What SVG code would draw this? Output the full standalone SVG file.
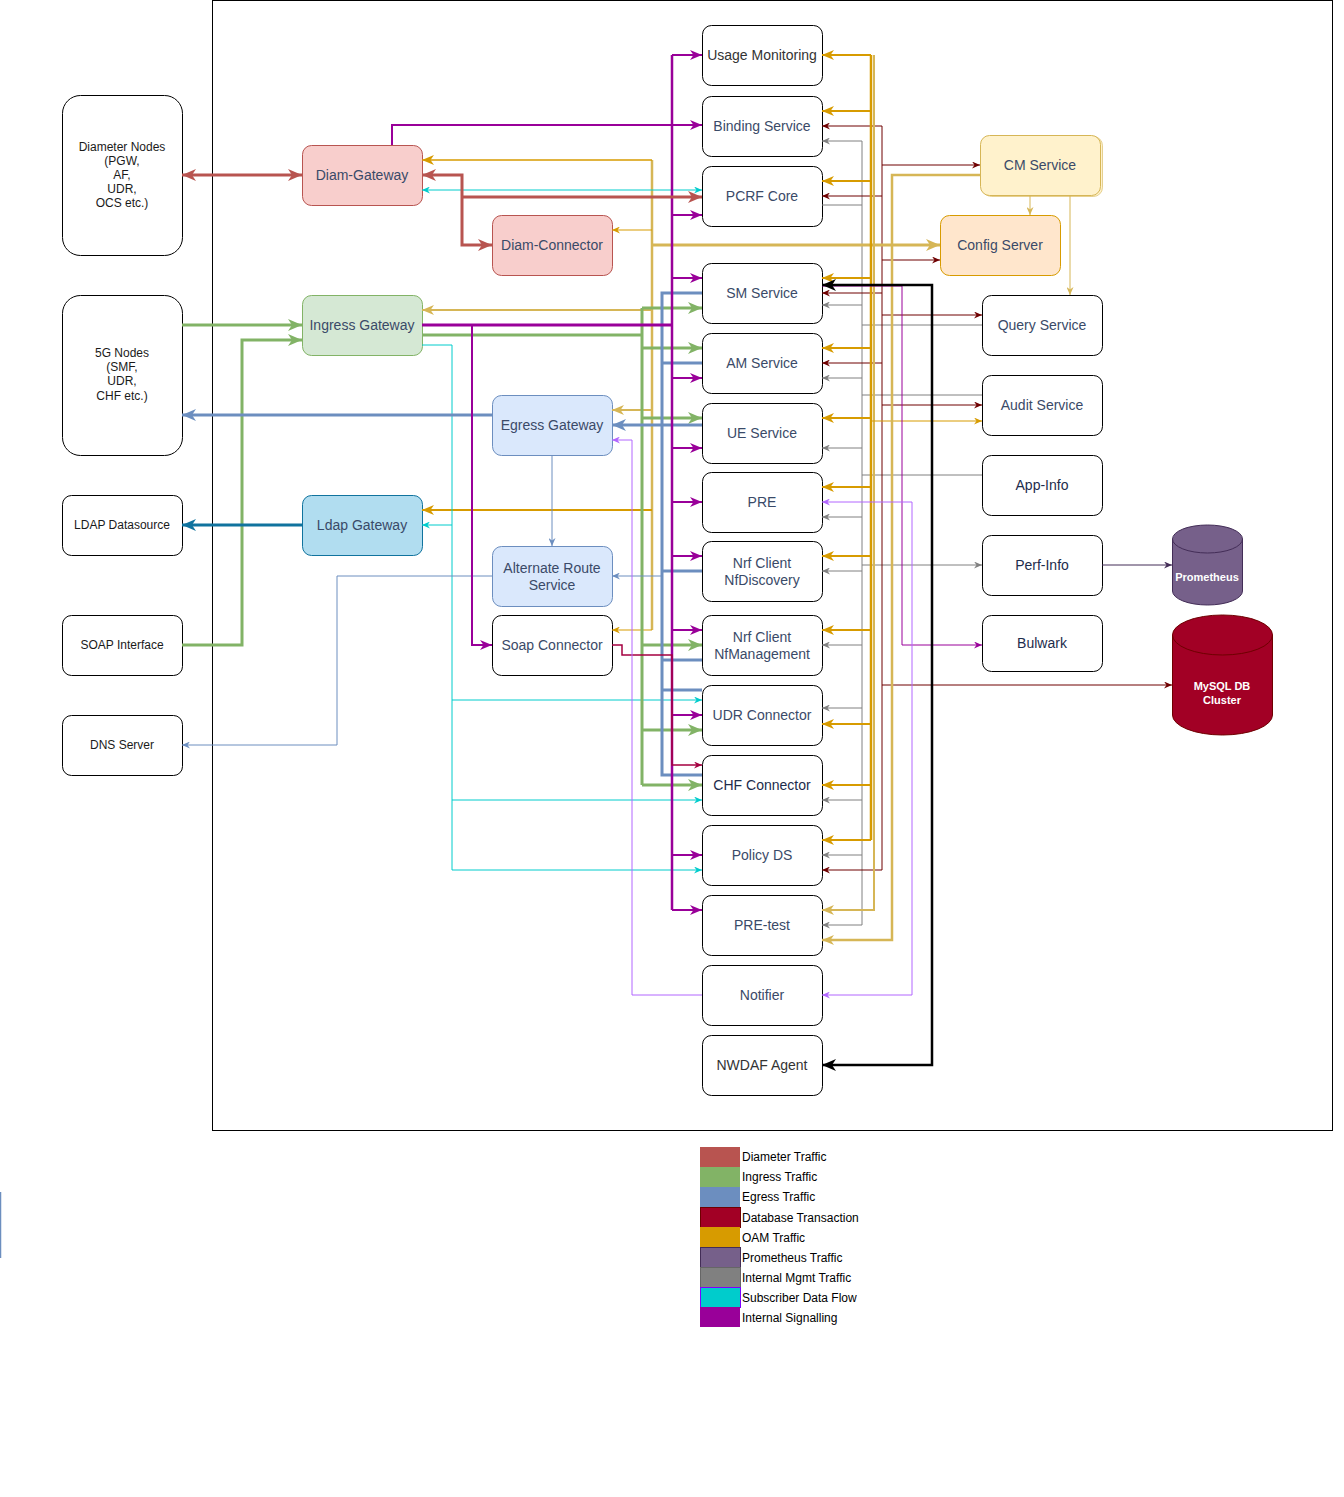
<svg xmlns="http://www.w3.org/2000/svg" width="1344" height="1497" viewBox="0 0 1344 1497">
<style>
text{font-family:"Liberation Sans",Arial,Helvetica,sans-serif}
.n{fill:#fff;stroke:#000;stroke-width:1}
.t{font-size:14px;text-anchor:middle;fill:#3a4a68}
.tl{font-size:12px;text-anchor:middle;fill:#1a1a1a}
.dk{fill:#333}
.nv{fill:#1d2c4c}
.db{font-size:11px;font-weight:bold;text-anchor:middle;fill:#fff}
.lg{font-size:12px;fill:#000}
</style>
<defs>
<marker id="rL" viewBox="0 0 14 12" markerWidth="14" markerHeight="12" refX="14" refY="6" orient="auto-start-reverse" markerUnits="userSpaceOnUse"><path d="M0,0L14,6L0,12L4,6Z" fill="#b85450"/></marker>
<marker id="gnL" viewBox="0 0 14 12" markerWidth="14" markerHeight="12" refX="14" refY="6" orient="auto-start-reverse" markerUnits="userSpaceOnUse"><path d="M0,0L14,6L0,12L4,6Z" fill="#82b366"/></marker>
<marker id="bL" viewBox="0 0 14 12" markerWidth="14" markerHeight="12" refX="14" refY="6" orient="auto-start-reverse" markerUnits="userSpaceOnUse"><path d="M0,0L14,6L0,12L4,6Z" fill="#6c8ebf"/></marker>
<marker id="ldL" viewBox="0 0 14 12" markerWidth="14" markerHeight="12" refX="14" refY="6" orient="auto-start-reverse" markerUnits="userSpaceOnUse"><path d="M0,0L14,6L0,12L4,6Z" fill="#10739e"/></marker>
<marker id="kL" viewBox="0 0 14 12" markerWidth="14" markerHeight="12" refX="14" refY="6" orient="auto-start-reverse" markerUnits="userSpaceOnUse"><path d="M0,0L14,6L0,12L4,6Z" fill="#000"/></marker>
<marker id="lgL" viewBox="0 0 14 12" markerWidth="14" markerHeight="12" refX="14" refY="6" orient="auto-start-reverse" markerUnits="userSpaceOnUse"><path d="M0,0L14,6L0,12L4,6Z" fill="#d6b656"/></marker>
<marker id="gM" viewBox="0 0 12 10" markerWidth="12" markerHeight="10" refX="12" refY="5" orient="auto-start-reverse" markerUnits="userSpaceOnUse"><path d="M0,0L12,5L0,10L3.5,5Z" fill="#d79b00"/></marker>
<marker id="lgM" viewBox="0 0 12 10" markerWidth="12" markerHeight="10" refX="12" refY="5" orient="auto-start-reverse" markerUnits="userSpaceOnUse"><path d="M0,0L12,5L0,10L3.5,5Z" fill="#d6b656"/></marker>
<marker id="pM" viewBox="0 0 12 10" markerWidth="12" markerHeight="10" refX="12" refY="5" orient="auto-start-reverse" markerUnits="userSpaceOnUse"><path d="M0,0L12,5L0,10L3.5,5Z" fill="#990099"/></marker>
<marker id="bS" viewBox="0 0 8 7" markerWidth="8" markerHeight="7" refX="8" refY="3.5" orient="auto-start-reverse" markerUnits="userSpaceOnUse"><path d="M0,0L8,3.5L0,7L2.5,3.5Z" fill="#6c8ebf"/></marker>
<marker id="gS" viewBox="0 0 8 7" markerWidth="8" markerHeight="7" refX="8" refY="3.5" orient="auto-start-reverse" markerUnits="userSpaceOnUse"><path d="M0,0L8,3.5L0,7L2.5,3.5Z" fill="#d79b00"/></marker>
<marker id="lgS" viewBox="0 0 8 7" markerWidth="8" markerHeight="7" refX="8" refY="3.5" orient="auto-start-reverse" markerUnits="userSpaceOnUse"><path d="M0,0L8,3.5L0,7L2.5,3.5Z" fill="#d6b656"/></marker>
<marker id="pS" viewBox="0 0 8 7" markerWidth="8" markerHeight="7" refX="8" refY="3.5" orient="auto-start-reverse" markerUnits="userSpaceOnUse"><path d="M0,0L8,3.5L0,7L2.5,3.5Z" fill="#990099"/></marker>
<marker id="dS" viewBox="0 0 8 7" markerWidth="8" markerHeight="7" refX="8" refY="3.5" orient="auto-start-reverse" markerUnits="userSpaceOnUse"><path d="M0,0L8,3.5L0,7L2.5,3.5Z" fill="#6f0000"/></marker>
<marker id="grS" viewBox="0 0 8 7" markerWidth="8" markerHeight="7" refX="8" refY="3.5" orient="auto-start-reverse" markerUnits="userSpaceOnUse"><path d="M0,0L8,3.5L0,7L2.5,3.5Z" fill="#808080"/></marker>
<marker id="cS" viewBox="0 0 8 7" markerWidth="8" markerHeight="7" refX="8" refY="3.5" orient="auto-start-reverse" markerUnits="userSpaceOnUse"><path d="M0,0L8,3.5L0,7L2.5,3.5Z" fill="#00cccc"/></marker>
<marker id="vS" viewBox="0 0 8 7" markerWidth="8" markerHeight="7" refX="8" refY="3.5" orient="auto-start-reverse" markerUnits="userSpaceOnUse"><path d="M0,0L8,3.5L0,7L2.5,3.5Z" fill="#b266ff"/></marker>
<marker id="crS" viewBox="0 0 8 7" markerWidth="8" markerHeight="7" refX="8" refY="3.5" orient="auto-start-reverse" markerUnits="userSpaceOnUse"><path d="M0,0L8,3.5L0,7L2.5,3.5Z" fill="#a50040"/></marker>
<marker id="prS" viewBox="0 0 8 7" markerWidth="8" markerHeight="7" refX="8" refY="3.5" orient="auto-start-reverse" markerUnits="userSpaceOnUse"><path d="M0,0L8,3.5L0,7L2.5,3.5Z" fill="#432d57"/></marker>
</defs>

<rect x="0" y="0" width="1344" height="1497" fill="#fff"/>
<rect id="frame" x="212.5" y="0.5" width="1120" height="1130" fill="none" stroke="#000" stroke-width="1"/>
<line x1="0.5" y1="1192" x2="0.5" y2="1258" stroke="#6c8ebf" stroke-width="1.5"/>

<!-- left nodes -->
<g id="diameter-nodes"><rect class="n" x="62.5" y="95.5" width="120" height="160" rx="18"/>
<text class="tl"><tspan x="122" y="151">Diameter Nodes</tspan><tspan x="122" y="165">(PGW,</tspan><tspan x="122" y="179">AF,</tspan><tspan x="122" y="193">UDR,</tspan><tspan x="122" y="207">OCS etc.)</tspan></text></g>
<g id="5g-nodes"><rect class="n" x="62.5" y="295.5" width="120" height="160" rx="18"/>
<text class="tl"><tspan x="122" y="357">5G Nodes</tspan><tspan x="122" y="371">(SMF,</tspan><tspan x="122" y="385">UDR,</tspan><tspan x="122" y="400">CHF etc.)</tspan></text></g>
<g id="ldap-datasource"><rect class="n" x="62.5" y="495.5" width="120" height="60" rx="9"/><text class="tl" x="122" y="529">LDAP Datasource</text></g>
<g id="soap-interface"><rect class="n" x="62.5" y="615.5" width="120" height="60" rx="9"/><text class="tl" x="122" y="649">SOAP Interface</text></g>
<g id="dns-server"><rect class="n" x="62.5" y="715.5" width="120" height="60" rx="9"/><text class="tl" x="122" y="749">DNS Server</text></g>

<!-- middle nodes -->
<g id="diam-gateway"><rect x="302.5" y="145.5" width="120" height="60" rx="9" fill="#f8cecc" stroke="#b85450"/><text class="t" x="362" y="180">Diam-Gateway</text></g>
<g id="diam-connector"><rect x="492.5" y="215.5" width="120" height="60" rx="9" fill="#f8cecc" stroke="#b85450"/><text class="t" x="552" y="250">Diam-Connector</text></g>
<g id="ingress-gateway"><rect x="302.5" y="295.5" width="120" height="60" rx="9" fill="#d5e8d4" stroke="#82b366"/><text class="t" x="362" y="330">Ingress Gateway</text></g>
<g id="egress-gateway"><rect x="492.5" y="395.5" width="120" height="60" rx="9" fill="#dae8fc" stroke="#6c8ebf"/><text class="t" x="552" y="430">Egress Gateway</text></g>
<g id="ldap-gateway"><rect x="302.5" y="495.5" width="120" height="60" rx="9" fill="#b1ddf0" stroke="#10739e"/><text class="t" x="362" y="530">Ldap Gateway</text></g>
<g id="alternate-route"><rect x="492.5" y="546.5" width="120" height="60" rx="9" fill="#dae8fc" stroke="#6c8ebf"/><text class="t"><tspan x="552" y="573">Alternate Route</tspan><tspan x="552" y="590">Service</tspan></text></g>
<g id="soap-connector"><rect class="n" x="492.5" y="615.5" width="120" height="60" rx="9"/><text class="t" x="552" y="650">Soap Connector</text></g>

<!-- service column -->
<g id="usage-monitoring"><rect class="n" x="702.5" y="25.5" width="120" height="60" rx="9"/><text class="t dk" x="762" y="60">Usage Monitoring</text></g>
<g id="binding-service"><rect class="n" x="702.5" y="96.5" width="120" height="60" rx="9"/><text class="t" x="762" y="131">Binding Service</text></g>
<g id="pcrf-core"><rect class="n" x="702.5" y="166.5" width="120" height="60" rx="9"/><text class="t" x="762" y="201">PCRF Core</text></g>
<g id="sm-service"><rect class="n" x="702.5" y="263.5" width="120" height="60" rx="9"/><text class="t" x="762" y="298">SM Service</text></g>
<g id="am-service"><rect class="n" x="702.5" y="333.5" width="120" height="60" rx="9"/><text class="t" x="762" y="368">AM Service</text></g>
<g id="ue-service"><rect class="n" x="702.5" y="403.5" width="120" height="60" rx="9"/><text class="t" x="762" y="438">UE Service</text></g>
<g id="pre"><rect class="n" x="702.5" y="472.5" width="120" height="60" rx="9"/><text class="t" x="762" y="507">PRE</text></g>
<g id="nrf-discovery"><rect class="n" x="702.5" y="541.5" width="120" height="60" rx="9"/><text class="t"><tspan x="762" y="568">Nrf Client</tspan><tspan x="762" y="585">NfDiscovery</tspan></text></g>
<g id="nrf-management"><rect class="n" x="702.5" y="615.5" width="120" height="60" rx="9"/><text class="t"><tspan x="762" y="642">Nrf Client</tspan><tspan x="762" y="659">NfManagement</tspan></text></g>
<g id="udr-connector"><rect class="n" x="702.5" y="685.5" width="120" height="60" rx="9"/><text class="t" x="762" y="720">UDR Connector</text></g>
<g id="chf-connector"><rect class="n" x="702.5" y="755.5" width="120" height="60" rx="9"/><text class="t nv" x="762" y="790">CHF Connector</text></g>
<g id="policy-ds"><rect class="n" x="702.5" y="825.5" width="120" height="60" rx="9"/><text class="t" x="762" y="860">Policy DS</text></g>
<g id="pre-test"><rect class="n" x="702.5" y="895.5" width="120" height="60" rx="9"/><text class="t" x="762" y="930">PRE-test</text></g>
<g id="notifier"><rect class="n" x="702.5" y="965.5" width="120" height="60" rx="9"/><text class="t" x="762" y="1000">Notifier</text></g>
<g id="nwdaf-agent"><rect class="n" x="702.5" y="1035.5" width="120" height="60" rx="9"/><text class="t dk" x="762" y="1070">NWDAF Agent</text></g>

<!-- right nodes -->
<g id="cm-service"><rect x="982.5" y="136.5" width="120" height="60" rx="9" fill="#fff2cc" stroke="#d6b656" stroke-opacity="0.6"/><rect x="980.5" y="135.5" width="120" height="60" rx="9" fill="#fff2cc" stroke="#d6b656"/><text class="t" x="1040" y="170">CM Service</text></g>
<g id="config-server"><rect x="940.5" y="215.5" width="120" height="60" rx="9" fill="#ffe6cc" stroke="#d79b00"/><text class="t" x="1000" y="250">Config Server</text></g>
<g id="query-service"><rect class="n" x="982.5" y="295.5" width="120" height="60" rx="9"/><text class="t" x="1042" y="330">Query Service</text></g>
<g id="audit-service"><rect class="n" x="982.5" y="375.5" width="120" height="60" rx="9"/><text class="t" x="1042" y="410">Audit Service</text></g>
<g id="app-info"><rect class="n" x="982.5" y="455.5" width="120" height="60" rx="9"/><text class="t nv" x="1042" y="490">App-Info</text></g>
<g id="perf-info"><rect class="n" x="982.5" y="535.5" width="120" height="60" rx="9"/><text class="t nv" x="1042" y="570">Perf-Info</text></g>
<g id="bulwark"><rect class="n" x="982.5" y="615.5" width="120" height="56" rx="9"/><text class="t nv" x="1042" y="648">Bulwark</text></g>
<g id="prometheus"><path d="M1172.5,539 A35,14 0 0 1 1242.5,539 V591 A35,14 0 0 1 1172.5,591 Z" fill="#76608a" stroke="#432d57"/><path d="M1172.5,539 A35,14 0 0 0 1242.5,539" fill="none" stroke="#432d57"/><text class="db" x="1207" y="581">Prometheus</text></g>
<g id="mysql"><path d="M1172.5,635 A50,20 0 0 1 1272.5,635 V715 A50,20 0 0 1 1172.5,715 Z" fill="#a20025" stroke="#6f0000"/><path d="M1172.5,635 A50,20 0 0 0 1272.5,635" fill="none" stroke="#6f0000"/><text class="db"><tspan x="1222" y="690">MySQL DB</tspan><tspan x="1222" y="704">Cluster</tspan></text></g>

<g id="connectors" fill="none">
<!-- internal mgmt grey -->
<g stroke="#808080" stroke-width="1">
<path d="M862,141V925"/>
<path d="M862,141H822" marker-end="url(#grS)"/><path d="M862,305H822" marker-end="url(#grS)"/><path d="M862,378H822" marker-end="url(#grS)"/><path d="M862,448H822" marker-end="url(#grS)"/><path d="M862,517H822" marker-end="url(#grS)"/><path d="M862,571H822" marker-end="url(#grS)"/><path d="M862,645H822" marker-end="url(#grS)"/><path d="M862,708H822" marker-end="url(#grS)"/><path d="M862,800H822" marker-end="url(#grS)"/><path d="M862,855H822" marker-end="url(#grS)"/><path d="M862,925H822" marker-end="url(#grS)"/>
<path d="M822,205H862"/>
<path d="M862,325H982"/><path d="M862,395H982"/><path d="M862,475H982"/><path d="M862,565H982" marker-end="url(#grS)"/>
</g>
<!-- database dark red -->
<g stroke="#6f0000" stroke-width="1">
<path d="M882,126V870"/>
<path d="M882,126H822" marker-end="url(#dS)"/><path d="M882,196H822" marker-end="url(#dS)"/><path d="M882,293H822" marker-end="url(#dS)"/><path d="M882,363H822" marker-end="url(#dS)"/><path d="M882,870H822" marker-end="url(#dS)"/>
<path d="M882,165H980" marker-end="url(#dS)"/><path d="M882,260H940" marker-end="url(#dS)"/><path d="M882,315H982" marker-end="url(#dS)"/><path d="M882,405H982" marker-end="url(#dS)"/><path d="M882,685H1172" marker-end="url(#dS)"/>
</g>
<!-- OAM gold -->
<path d="M652,160V630" stroke="#d6b656" stroke-width="2.5"/>
<path d="M652,160H422" stroke="#d79b00" stroke-width="1.5" marker-end="url(#gM)"/>
<path d="M652,230H612" stroke="#d79b00" stroke-width="1" marker-end="url(#gS)"/>
<path d="M652,245H940" stroke="#d6b656" stroke-width="3" marker-end="url(#lgL)"/>
<path d="M652,310H422" stroke="#d6b656" stroke-width="2" marker-end="url(#lgM)"/>
<path d="M652,410H612" stroke="#d6b656" stroke-width="2" marker-end="url(#lgM)"/>
<path d="M652,510H422" stroke="#d79b00" stroke-width="2" marker-end="url(#gM)"/>
<path d="M652,630H612" stroke="#d79b00" stroke-width="1" marker-end="url(#gS)"/>
<path d="M874,55V910H822" stroke="#d6b656" stroke-width="2" marker-end="url(#lgM)"/>
<g stroke="#d79b00" stroke-width="2">
<path d="M871,55V840" stroke-width="2.5"/>
<path d="M871,55H822" marker-end="url(#gM)"/><path d="M871,111H822" marker-end="url(#gM)"/><path d="M871,181H822" marker-end="url(#gM)"/><path d="M871,278H822" marker-end="url(#gM)"/><path d="M871,348H822" marker-end="url(#gM)"/><path d="M871,418H822" marker-end="url(#gM)"/><path d="M871,487H822" marker-end="url(#gM)"/><path d="M871,556H822" marker-end="url(#gM)"/><path d="M871,630H822" marker-end="url(#gM)"/><path d="M871,724H822" marker-end="url(#gM)"/><path d="M871,785H822" marker-end="url(#gM)"/><path d="M871,840H822" marker-end="url(#gM)"/>
<path d="M871,421H982" stroke-width="1" marker-end="url(#gS)"/>
</g>
<path d="M980,175H892V940H822" stroke="#d6b656" stroke-width="2.5" marker-end="url(#lgM)"/>
<path d="M1030,195V215" stroke="#d6b656" stroke-width="1" marker-end="url(#lgS)"/>
<path d="M1070,195V295" stroke="#d6b656" stroke-width="1" marker-end="url(#lgS)"/>
<!-- subscriber cyan -->
<g stroke="#00cccc" stroke-width="1">
<path d="M422,190H702" marker-start="url(#cS)" marker-end="url(#cS)"/>
<path d="M422,345H452V870H702" marker-end="url(#cS)"/>
<path d="M452,700H702" marker-end="url(#cS)"/>
<path d="M452,800H702" marker-end="url(#cS)"/>
<path d="M452,525H422" marker-end="url(#cS)"/>
</g>
<!-- ingress green -->
<g stroke="#82b366" stroke-width="3">
<path d="M182,325H302" marker-end="url(#gnL)"/>
<path d="M182,645H242V340H302" marker-end="url(#gnL)"/>
<path d="M422,335H642"/>
<path d="M642,308V785"/>
<path d="M642,308H702" marker-end="url(#gnL)"/><path d="M642,348H702" marker-end="url(#gnL)"/><path d="M642,418H702" marker-end="url(#gnL)"/><path d="M642,645H702" marker-end="url(#gnL)"/><path d="M642,730H702" marker-end="url(#gnL)"/><path d="M642,785H702" marker-end="url(#gnL)"/>
</g>
<!-- egress blue -->
<g stroke="#6c8ebf" stroke-width="3">
<path d="M492,415H182" marker-end="url(#bL)"/>
<path d="M702,425H612" marker-end="url(#bL)"/>
<path d="M702,293H662V775H702"/>
<path d="M662,363H702"/><path d="M662,571H702"/><path d="M662,660H702"/><path d="M662,690H702"/>
<path d="M552,455V546" stroke-width="1" marker-end="url(#bS)"/>
<path d="M662,576H612" stroke-width="1" marker-end="url(#bS)"/>
<path d="M492,576H337V745H182" stroke-width="1" marker-end="url(#bS)"/>
</g>
<!-- ldap -->
<path d="M302,525H182" stroke="#10739e" stroke-width="3" marker-end="url(#ldL)"/>
<!-- internal signalling purple -->
<g stroke="#990099" stroke-width="2">
<path d="M392,145V125H702" marker-end="url(#pM)"/>
<path d="M422,325H672" stroke-width="3"/>
<path d="M472,325V645H492" marker-end="url(#pM)"/>
<path d="M672,55V910" stroke-width="2.5"/>
<path d="M672,55H702" marker-end="url(#pM)"/><path d="M672,215H702" marker-end="url(#pM)"/><path d="M672,278H702" marker-end="url(#pM)"/><path d="M672,378H702" marker-end="url(#pM)"/><path d="M672,448H702" marker-end="url(#pM)"/><path d="M672,502H702" marker-end="url(#pM)"/><path d="M672,556H702" marker-end="url(#pM)"/><path d="M672,630H702" marker-end="url(#pM)"/><path d="M672,715H702" marker-end="url(#pM)"/><path d="M672,855H702" marker-end="url(#pM)"/><path d="M672,910H702" marker-end="url(#pM)"/>
<path d="M822,286H902V645H982" stroke-width="1" marker-end="url(#pS)"/>
</g>
<!-- diameter red -->
<g stroke="#b85450" stroke-width="3">
<path d="M182,175H302" marker-start="url(#rL)" marker-end="url(#rL)"/>
<path d="M422,175H462V245H492" marker-start="url(#rL)" marker-end="url(#rL)"/>
<path d="M462,197H702" marker-end="url(#rL)"/>
</g>
<!-- crimson soap -> chf -->
<path d="M612,645H622V655H672V765H702" stroke="#a50040" stroke-width="1.5" marker-end="url(#crS)"/>
<!-- violet notifier -->
<g stroke="#b266ff" stroke-width="1">
<path d="M702,995H632V440H612" marker-end="url(#vS)"/>
<path d="M822,502H912V995H822" marker-start="url(#vS)" marker-end="url(#vS)"/>
</g>
<!-- nwdaf black -->
<path d="M822,285H932V1065H822" stroke="#000" stroke-width="2.5" marker-start="url(#kL)" marker-end="url(#kL)"/>
<!-- prometheus -->
<path d="M1102,565H1172" stroke="#432d57" stroke-width="1" marker-end="url(#prS)"/>
</g>

<g id="legend">
<rect x="700" y="1147" width="40" height="20" fill="#b85450"/>
<rect x="700" y="1167" width="40" height="20" fill="#82b366"/>
<rect x="700" y="1187" width="40" height="20" fill="#6c8ebf"/>
<rect x="700.5" y="1207.5" width="40" height="20" fill="#a20025" stroke="#6f0000"/>
<rect x="700" y="1227" width="40" height="20" fill="#d79b00"/>
<rect x="700.5" y="1247.5" width="40" height="20" fill="#76608a" stroke="#432d57"/>
<rect x="700.5" y="1267.5" width="40" height="20" fill="#808080" stroke="#666"/>
<rect x="700.5" y="1287.5" width="40" height="20" fill="#00cccc" stroke="#7f00ff"/>
<rect x="700" y="1307" width="40" height="20" fill="#990099"/>
<text class="lg" x="742" y="1161">Diameter Traffic</text>
<text class="lg" x="742" y="1181">Ingress Traffic</text>
<text class="lg" x="742" y="1201">Egress Traffic</text>
<text class="lg" x="742" y="1222">Database Transaction</text>
<text class="lg" x="742" y="1242">OAM Traffic</text>
<text class="lg" x="742" y="1262">Prometheus Traffic</text>
<text class="lg" x="742" y="1282">Internal Mgmt Traffic</text>
<text class="lg" x="742" y="1302">Subscriber Data Flow</text>
<text class="lg" x="742" y="1322">Internal Signalling</text>
</g>
</svg>
